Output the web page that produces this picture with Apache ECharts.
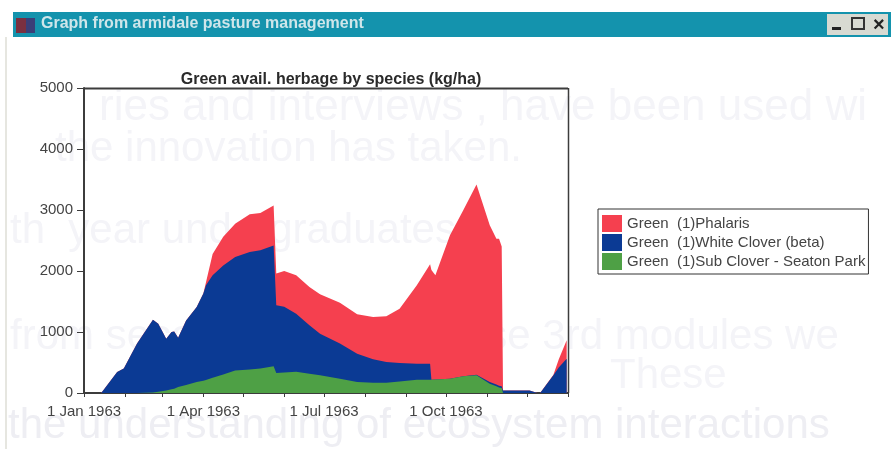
<!DOCTYPE html>
<html>
<head>
<meta charset="utf-8">
<style>
html, body { margin: 0; padding: 0; background: #fff; }
#chart { width: 891px; height: 449px; }
</style>
<script src="https://cdn.jsdelivr.net/npm/echarts@6/dist/echarts.min.js"></script>
</head>
<body>
<div id="chart"></div>
<script>
var windowTitle = 'Graph from armidale pasture management';
var chartTitle = 'Green avail. herbage by species (kg/ha)';
var seriesNames = ['Green  (1)Phalaris', 'Green  (1)White Clover (beta)', 'Green  (1)Sub Clover - Seaton Park'];
var seriesColors = ['#f5404f', '#0b3a94', '#4ea045'];
// slide text showing through the scan
var ghostLines = ['ries and interviews , have been used wi', 'the innovation has taken.', 'th  year undergraduates',
    'from second year and these 3rd modules we', 'These', 'the understanding of ecosystem interactions'];

var dates = ['1963-01-01', '1963-01-14', '1963-01-26', '1963-01-31', '1963-02-10', '1963-02-22', '1963-02-26',
    '1963-03-04', '1963-03-08', '1963-03-10', '1963-03-13', '1963-03-19', '1963-03-27', '1963-04-01', '1963-04-03',
    '1963-04-08', '1963-04-16', '1963-04-25', '1963-05-06', '1963-05-14', '1963-05-24', '1963-05-25', '1963-05-26',
    '1963-06-01', '1963-06-10', '1963-06-20', '1963-06-28', '1963-07-13', '1963-07-26', '1963-08-07', '1963-08-17',
    '1963-08-27', '1963-09-09', '1963-09-19', '1963-09-20', '1963-09-23', '1963-10-04', '1963-10-14', '1963-10-24',
    '1963-11-03', '1963-11-08', '1963-11-10', '1963-11-12', '1963-11-13', '1963-12-03', '1963-12-09', '1963-12-11',
    '1963-12-21', '1963-12-25', '1963-12-31'];

// kg/ha, each layer on its own
var subClover = [0, 0, 0, 0, 0, 10, 20, 40, 60, 70, 100, 130, 180, 200, 215, 250, 305, 370, 385, 400, 437, 437, 328,
    335, 350, 317, 290, 235, 180, 170, 170, 190, 218, 218, 218, 220, 235, 273, 290, 150, 110, 90, 80, 0, 0, 0, 0, 0, 0, 0];
var whiteClover = [0, 0, 344, 400, 810, 1190, 1115, 850, 940, 940, 805, 1060, 1230, 1430, 1550, 1680, 1785, 1860, 1925,
    1940, 1983, 1983, 1109, 1080, 950, 793, 683, 575, 465, 382, 338, 302, 262, 262, 0, 0, 0, 0, 10, 30, 30, 30, 30, 40, 40, 0, 0, 290, 420, 563];
var phalaris = [0, 0, 0, 0, 0, 0, 0, 0, 0, 0, 0, 0, 0, 0, 50, 350, 470, 545, 620, 610, 655, 655, 523, 585, 630, 627, 644,
    670, 645, 693, 749, 890, 1285, 1630, 1800, 1710, 2350, 2722, 3120, 2570, 2390, 2410, 2290, 0, 0, 0, 0, 10, 130, 300];

var monthTicks = ['1963-01-01', '1963-02-01', '1963-03-01', '1963-04-01', '1963-05-01', '1963-06-01', '1963-07-01',
    '1963-08-01', '1963-09-01', '1963-10-01', '1963-11-01', '1963-12-01', '1964-01-01'];
var monthLabels = ['1963-01-01', '1963-04-01', '1963-07-01', '1963-10-01'];
var yTicks = [0, 1000, 2000, 3000, 4000, 5000];
var monthNames = ['Jan', 'Feb', 'Mar', 'Apr', 'May', 'Jun', 'Jul', 'Aug', 'Sep', 'Oct', 'Nov', 'Dec'];

function toTime(s) {
    return new Date(s + 'T00:00:00').getTime();
}
// layers are piled by hand because echarts won't stack y when both axes are value axes
function pile() {
    var layers = arguments;
    return dates.map(function (d, i) {
        var sum = 0;
        for (var k = 0; k < layers.length; k++) {
            sum += layers[k][i];
        }
        return [toTime(d), sum];
    });
}

var labelFont = '"Liberation Sans", Arial, sans-serif';
var axisColor = '#3c3c3c';
var chart = echarts.init(document.getElementById('chart'));

var ghostPlaces = [[99, 86], [55, 128], [10, 210], [10, 316], [610, 355], [8, 405]];
var ghostText = ghostLines.map(function (line, i) {
    return {
        type: 'text', silent: true, z: -10,
        style: { x: ghostPlaces[i][0], y: ghostPlaces[i][1], text: line, fill: i == 5 ? '#eeeef3' : '#f4f4f8', font: (i == 0 ? 44 : 42) + 'px "Liberation Sans", sans-serif' }
    };
});

var option = {
    animation: false,
    backgroundColor: '#ffffff',
    title: {
        text: chartTitle,
        left: 326,
        top: 67,
        textAlign: 'center',
        textStyle: { fontFamily: labelFont, fontSize: 16, fontWeight: 'bold', color: '#2a2a2a' }
    },
    legend: {
        orient: 'vertical',
        left: 598,
        top: 209,
        padding: [6, 3, 4, 4],
        itemWidth: 20,
        itemHeight: 17,
        itemGap: 2,
        borderColor: '#333',
        borderWidth: 1,
        backgroundColor: '#fff',
        icon: 'rect',
        data: seriesNames,
        textStyle: { fontFamily: labelFont, fontSize: 15, color: '#444' }
    },
    grid: { left: 84, top: 88, width: 484, height: 305 },
    xAxis: {
        type: 'value',
        min: toTime('1963-01-01'),
        max: toTime('1964-01-01'),
        splitLine: { show: false },
        axisLine: { onZero: false, lineStyle: { color: axisColor, width: 2 } },
        axisTick: { customValues: monthTicks.map(toTime), length: 4, lineStyle: { color: axisColor } },
        axisLabel: {
            customValues: monthLabels.map(toTime),
            margin: 11,
            hideOverlap: false,
            fontFamily: labelFont,
            fontSize: 15,
            color: '#444',
            formatter: function (t) {
                var d = new Date(t);
                return d.getDate() + ' ' + monthNames[d.getMonth()] + ' ' + d.getFullYear();
            }
        }
    },
    yAxis: {
        type: 'value',
        min: 0,
        max: 5000,
        axisTick: { show: true, customValues: yTicks, length: 7, lineStyle: { color: axisColor } },
        axisLabel: {
            customValues: yTicks,
            margin: 11,
            fontFamily: labelFont,
            fontSize: 15,
            color: '#444',
            formatter: function (v) { return String(v); }
        },
        splitLine: { show: false },
        axisLine: { show: true, lineStyle: { color: axisColor, width: 2 } }
    },
    graphic: ghostText.concat([
        // scan edge on the left
        { type: 'rect', silent: true, z: -10, shape: { x: 5, y: 37, width: 2, height: 412 }, style: { fill: '#e6e6e0' } },
        // window title bar
        { type: 'rect', silent: true, z: 0, shape: { x: 13, y: 12, width: 878, height: 25 }, style: { fill: '#1493ad' } },
        { type: 'rect', silent: true, z: 1, shape: { x: 16, y: 18, width: 10, height: 15 }, style: { fill: '#7a3040' } },
        { type: 'rect', silent: true, z: 1, shape: { x: 26, y: 18, width: 9, height: 15 }, style: { fill: '#3a3f78' } },
        { type: 'text', silent: true, z: 1, style: { x: 41, y: 16, text: windowTitle, fill: '#cfe6ea', font: 'bold 16px "Liberation Sans", sans-serif' } },
        { type: 'rect', silent: true, z: 1, shape: { x: 827, y: 14, width: 61, height: 21 }, style: { fill: '#d8dad2' } },
        { type: 'rect', silent: true, z: 2, shape: { x: 832, y: 27, width: 9, height: 3 }, style: { fill: '#222' } },
        { type: 'rect', silent: true, z: 2, shape: { x: 852, y: 18, width: 12, height: 11 }, style: { fill: 'none', stroke: '#333', lineWidth: 2 } },
        { type: 'text', silent: true, z: 2, style: { x: 873, y: 15, text: '×', fill: '#222', font: 'bold 20px "Liberation Sans", sans-serif' } },
        // top and right frame of the plot
        { type: 'line', silent: true, z: 5, shape: { x1: 84, y1: 88.5, x2: 568, y2: 88.5 }, style: { stroke: axisColor, lineWidth: 2 } },
        { type: 'line', silent: true, z: 5, shape: { x1: 568.5, y1: 88, x2: 568.5, y2: 393 }, style: { stroke: axisColor, lineWidth: 1.5 } }
    ]),
    series: [
        { name: seriesNames[0], data: pile(subClover, whiteClover, phalaris), color: seriesColors[0] },
        { name: seriesNames[1], data: pile(subClover, whiteClover), color: seriesColors[1] },
        { name: seriesNames[2], data: pile(subClover), color: seriesColors[2] }
    ].map(function (s) {
        return {
            name: s.name,
            type: 'line',
            data: s.data,
            symbol: 'none',
            color: s.color,
            lineStyle: { width: 0 },
            areaStyle: { color: s.color, opacity: 1 }
        };
    })
};
chart.setOption(option);
</script>
</body>
</html>
